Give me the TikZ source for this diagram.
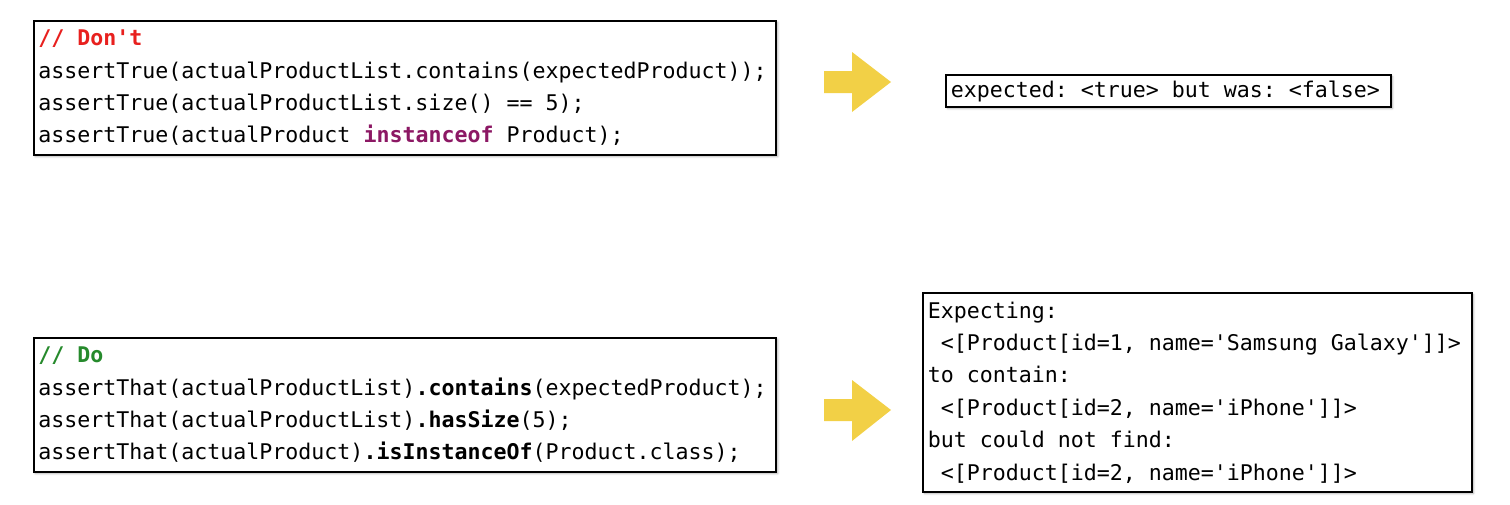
\documentclass[tikz,border=0pt]{standalone}
\usepackage{fontspec}
\setmonofont{DejaVu Sans Mono}
\usetikzlibrary{shadows.blur}
\definecolor{dontred}{RGB}{232,32,30}
\definecolor{dogreen}{RGB}{38,138,44}
\definecolor{kwpurple}{RGB}{140,24,100}
\definecolor{arrowyellow}{RGB}{242,208,70}
\newcommand{\monospaces}{\spaceskip=\fontcharwd\font`\x\relax\xspaceskip=\spaceskip}
\tikzset{
  codebox/.style={draw=black, line width=1.5pt, fill=white, inner xsep=3.6pt, inner ysep=0pt,
    align=left, anchor=center,
    font=\ttfamily\fontsize{16.2pt}{24.3pt}\selectfont,
    execute at begin node=\monospaces,
    blur shadow={shadow xshift=1.1pt, shadow yshift=-1.1pt, shadow blur steps=6, shadow opacity=30, shadow blur radius=1.6pt}},
  bigarrow/.style={fill=arrowyellow, draw=none}
}
\begin{document}
\begin{tikzpicture}[x=0.75pt,y=-0.75pt]
\useasboundingbox (0,0) rectangle (1510,504);
% top left: Don't
\node[codebox, text width=549.9pt, minimum height=100.5pt] (dont) at (405,88)
 {\textcolor{dontred}{\bfseries\monospaces // Don't}\\
  assertTrue(actualProductList.contains(expectedProduct));\\
  assertTrue(actualProductList.size() == 5);\\
  assertTrue(actualProduct \textcolor{kwpurple}{\bfseries instanceof} Product);};
% top right message
\node[codebox, text width=326.5pt, minimum height=24pt] (msg1) at (1168.5,91)
 {expected: <true> but was: <false>};
% bottom left: Do
\node[codebox, text width=549.9pt, minimum height=100.5pt] (do) at (405,405)
 {\textcolor{dogreen}{\bfseries\monospaces // Do}\\
  assertThat(actualProductList)\textbf{.contains}(expectedProduct);\\
  assertThat(actualProductList)\textbf{.hasSize}(5);\\
  assertThat(actualProduct)\textbf{.isInstanceOf}(Product.class);};
% bottom right message
\node[codebox, text width=404.5pt, minimum height=149.25pt] (msg2) at (1197.5,392.5)
 {Expecting:\\
  \ <[Product[id=1, name='Samsung Galaxy']]>\\
  to contain:\\
  \ <[Product[id=2, name='iPhone']]>\\
  but could not find:\\
  \ <[Product[id=2, name='iPhone']]>};
% block arrows
\fill[bigarrow] (824,71) -- (852,71) -- (852,52) -- (891,82) -- (852,112) -- (852,93) -- (824,93) -- cycle;
\fill[bigarrow] (824,399) -- (852,399) -- (852,380) -- (891,410) -- (852,441) -- (852,421) -- (824,421) -- cycle;
\end{tikzpicture}
\end{document}
